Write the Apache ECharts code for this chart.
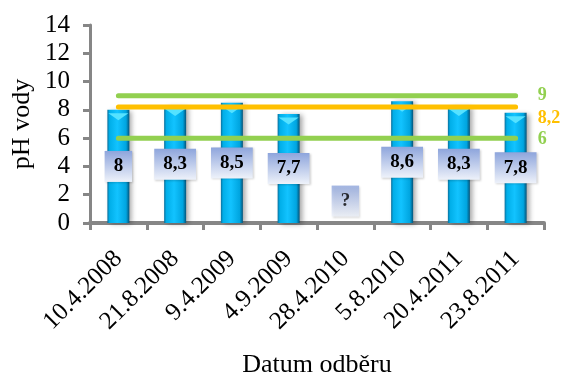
<!DOCTYPE html>
<html>
<head>
<meta charset="utf-8">
<script src="https://cdn.jsdelivr.net/npm/echarts@6/dist/echarts.min.js"></script>
<style>
  html, body { margin: 0; padding: 0; background: #ffffff; }
  #chart { width: 563px; height: 372px; }
</style>
</head>
<body>
<div id="chart"></div>
<script>
// Sampling dates and measured water pH
const dates = ['10.4.2008', '21.8.2008', '9.4.2009', '4.9.2009', '28.4.2010', '5.8.2010', '20.4.2011', '23.8.2011'];
const phValues = [8, 8.3, 8.5, 7.7, null, 8.6, 8.3, 7.8];
// Sample with no measured value: marker shown with a question mark
const unknownMark = [null, null, null, null, 1.55, null, null, null];
// Reference limits
const upperLimit = 9;
const targetValue = 8.2;
const lowerLimit = 6;
const yTicks = { min: 0, max: 14, step: 2 };

const serif = "'Liberation Serif', 'Times New Roman', serif";
const green = '#92D050';
const orange = '#FFC000';
const axisGrey = '#868686';

const fmt = v => String(v).replace('.', ',');

const boxFill = new echarts.graphic.LinearGradient(0, 0, 0, 1, [
  { offset: 0, color: '#8ea5dc' },
  { offset: 1, color: '#eef2fa' }
]);

const boxLabel = {
  show: true,
  position: 'inside',
  color: '#000',
  fontFamily: serif,
  fontWeight: 'bold',
  fontSize: 19,
  lineHeight: 19,
  backgroundColor: boxFill,
  padding: [6, 9, 6, 9],
  shadowColor: 'rgba(0,0,0,0.18)',
  shadowBlur: 2,
  shadowOffsetX: 1,
  shadowOffsetY: 1
};

const barFill = new echarts.graphic.LinearGradient(0, 0, 1, 0, [
  { offset: 0, color: '#0b6f9c' },
  { offset: 0.1, color: '#00aee8' },
  { offset: 0.45, color: '#12c3ff' },
  { offset: 0.85, color: '#00a5e0' },
  { offset: 1, color: '#04547a' }
]);

function limitLine(value, color, labelShift) {
  return {
    type: 'line',
    data: dates.map(() => value),
    symbol: 'none',
    silent: true,
    z: 5,
    lineStyle: { color: color, width: 5, cap: 'round' },
    endLabel: {
      show: true,
      formatter: () => fmt(value),
      color: color,
      fontFamily: serif,
      fontWeight: 'bold',
      fontSize: 18,
      distance: 22,
      offset: [0, labelShift]
    }
  };
}

const chart = echarts.init(document.getElementById('chart'), null, { renderer: 'canvas' });
chart.setOption({
  animation: false,
  backgroundColor: '#ffffff',
  grid: { left: 90, right: 19, top: 25, bottom: 149, containLabel: false, outerBoundsMode: 'none' },
  xAxis: {
    type: 'category',
    data: dates,
    name: 'Datum odběru',
    nameLocation: 'middle',
    nameGap: 129,
    nameMoveOverlap: false,
    nameTextStyle: { fontFamily: serif, fontSize: 26, color: '#000' },
    axisLine: { lineStyle: { color: axisGrey, width: 4 } },
    axisTick: { show: true, alignWithLabel: false, length: 7, lineStyle: { color: axisGrey, width: 3 } },
    axisLabel: { rotate: 45, interval: 0, margin: 32, fontFamily: serif, fontSize: 25, color: '#000' }
  },
  yAxis: {
    type: 'value',
    min: yTicks.min,
    max: yTicks.max,
    interval: yTicks.step,
    name: 'pH vody',
    nameLocation: 'middle',
    nameGap: 55,
    nameMoveOverlap: false,
    nameRotate: 90,
    nameTextStyle: { fontFamily: serif, fontSize: 26, color: '#000' },
    axisLine: { show: true, lineStyle: { color: axisGrey, width: 3 } },
    axisTick: { show: true, length: 7, lineStyle: { color: axisGrey, width: 3 } },
    splitLine: { show: false },
    axisLabel: { margin: 20, fontFamily: serif, fontSize: 25, color: '#000' }
  },
  series: [
    {
      type: 'bar',
      data: phValues,
      barWidth: 22,
      z: 2,
      itemStyle: {
        color: barFill,
        shadowColor: 'rgba(0,0,0,0.35)',
        shadowBlur: 5,
        shadowOffsetX: 3,
        shadowOffsetY: 1
      },
      label: Object.assign({}, boxLabel, { formatter: p => fmt(p.value) })
    },
    {
      // light bevel on top of each bar
      type: 'pictorialBar',
      data: phValues,
      symbol: 'path://M0,0 L10,0 L5,6 Z',
      symbolSize: [20, 7],
      symbolPosition: 'end',
      symbolOffset: [0, '50%'],
      barGap: '-100%',
      silent: true,
      z: 3,
      itemStyle: { color: '#55e2ff' }
    },
    limitLine(upperLimit, green, 0),
    limitLine(targetValue, orange, 11),
    limitLine(lowerLimit, green, 1),
    {
      type: 'scatter',
      data: unknownMark,
      symbolSize: 0,
      z: 10,
      label: Object.assign({}, boxLabel, { formatter: () => '?' })
    }
  ]
});
</script>
</body>
</html>
